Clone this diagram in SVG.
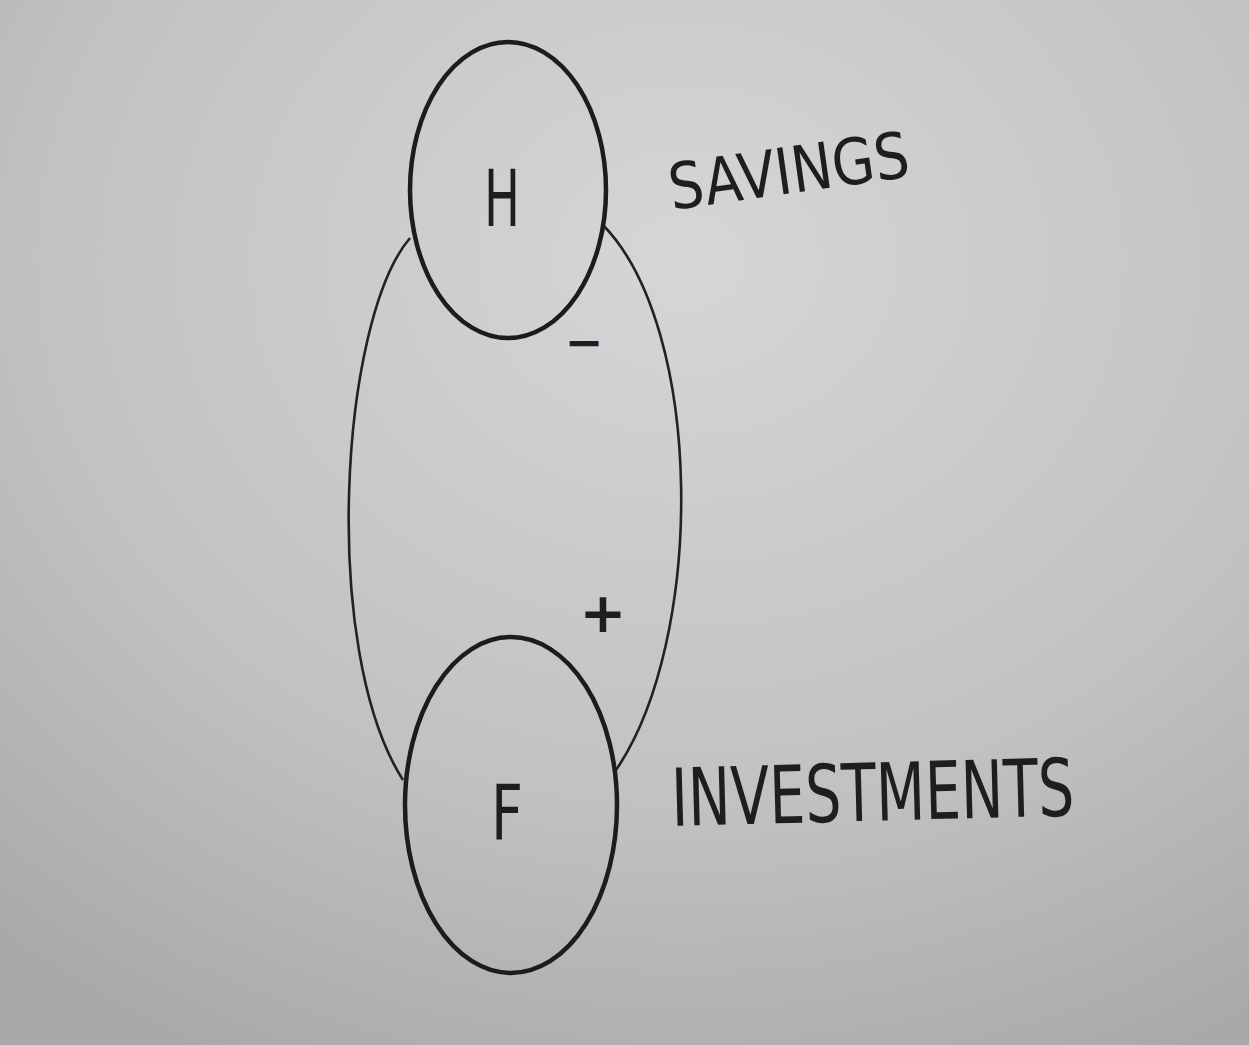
<svg xmlns="http://www.w3.org/2000/svg" width="1249" height="1045" viewBox="0 0 1249 1045">
<defs>
<radialGradient id="bg" cx="0.55" cy="0.25" r="0.85">
<stop offset="0" stop-color="#d6d6d6"/>
<stop offset="0.6" stop-color="#c2c2c2"/>
<stop offset="1" stop-color="#a9a9a9"/>
</radialGradient>
<style>
.node{fill:none;stroke:#1c1c1c;stroke-width:4.5}
.link{fill:none;stroke:#222;stroke-width:2.6}
.lbl{font-family:"DejaVu Sans","Liberation Sans",sans-serif;fill:#1e1e1e}
.sign{font-family:"DejaVu Sans",sans-serif;fill:#1e1e1e;font-weight:bold;text-anchor:middle}
</style>
</defs>
<rect x="0" y="0" width="1249" height="1045" fill="url(#bg)"/>
<g id="connectors">
<path class="link" d="M410,238 C340,320 320,650 403,780"/>
<path class="link" d="M603,225 C705,330 705,640 616,770"/>
<text class="sign" x="584" y="358" font-size="46">−</text>
<text class="sign" x="603" y="632" font-size="56">+</text>
</g>
<g id="node-H">
<ellipse class="node" cx="508" cy="190" rx="98" ry="148"/>
<text class="lbl" x="502" y="226" font-size="78" text-anchor="middle" textLength="36" lengthAdjust="spacingAndGlyphs">H</text>
</g>
<g id="node-F">
<ellipse class="node" cx="511" cy="805" rx="106" ry="168"/>
<text class="lbl" x="507" y="840" font-size="76" text-anchor="middle" textLength="32" lengthAdjust="spacingAndGlyphs">F</text>
</g>
<g id="label-savings">
<text class="lbl" x="672" y="210" font-size="64" textLength="242" lengthAdjust="spacingAndGlyphs" transform="rotate(-8 672 210)">SAVINGS</text>
</g>
<g id="label-investments">
<text class="lbl" x="672" y="826" font-size="80" textLength="403" lengthAdjust="spacingAndGlyphs" transform="rotate(-1.5 672 826)">INVESTMENTS</text>
</g>
</svg>
